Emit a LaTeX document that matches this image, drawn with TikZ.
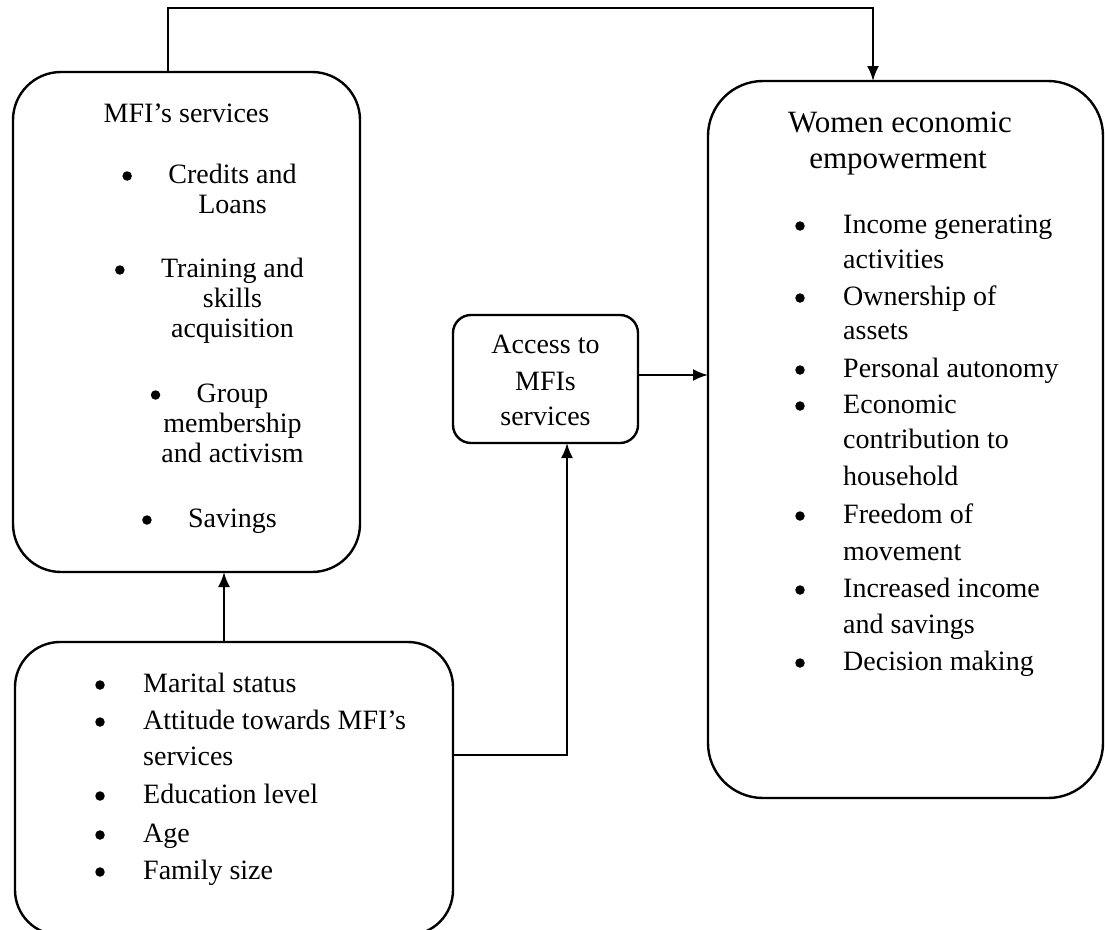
\documentclass[tikz,border=0pt]{standalone}
\usepackage{fontspec}
\setmainfont{Liberation Serif}
\usetikzlibrary{arrows.meta}
\begin{document}
\begin{tikzpicture}[x=1pt,y=-1pt,
  box/.style={draw, line width=2.4pt, inner sep=0pt, outer sep=0pt, anchor=north west},
  conn/.style={line width=2.2pt, -{Latex[length=15pt,width=12pt]}},
  txt/.style={inner sep=0pt, font=\fontsize{28pt}{37pt}\selectfont},
  ttl/.style={inner sep=0pt, font=\fontsize{31pt}{37pt}\selectfont},
  dot/.style={circle, fill, inner sep=0pt, minimum size=9.5pt}]
\useasboundingbox (0,0) rectangle (1105,929);
\fill[white] (0,0) rectangle (1105,929);

% boxes
\node[box, minimum width=347pt, minimum height=500pt, rounded corners=48pt] (mfi) at (13,72) {};
\node[box, minimum width=438pt, minimum height=293pt, rounded corners=45pt] (fac) at (15,642) {};
\node[box, minimum width=185pt, minimum height=128pt, rounded corners=18pt] (acc) at (453,315) {};
\node[box, minimum width=395pt, minimum height=717pt, rounded corners=55pt] (wee) at (708,81) {};

% connectors
\coordinate (topL) at (168,8);
\coordinate (topR) at (873,8);
\draw[conn] ([xshift=155pt]mfi.north west) -- (topL) -- (topR) -- (topR |- wee.north);
\draw[conn] ([xshift=209pt]fac.north west) -- ([xshift=211pt]mfi.south west);
\draw[conn] ([yshift=33.5pt]fac.east) -| ([xshift=21.5pt]acc.south);
\draw[conn] ([yshift=4pt]acc.east) -- ([yshift=4pt]acc.east -| wee.west);

% MFI's services
\node[txt, anchor=base] (mfit) at (186.5,122) {MFI’s services};
\node[txt, anchor=base] (m1) at (232.5,183) {Credits and};
\node[txt, anchor=base] (m1b) at (232.5,213) {Loans};
\node[txt, anchor=base] (m2) at (232.5,277) {Training and};
\node[txt, anchor=base] (m2b) at (232.5,307) {skills};
\node[txt, anchor=base] (m2c) at (232.5,337) {acquisition};
\node[txt, anchor=base] (m3) at (232.5,402) {Group};
\node[txt, anchor=base] (m3b) at (232.5,432) {membership};
\node[txt, anchor=base] (m3c) at (232.5,462) {and activism};
\node[txt, anchor=base] (m4) at (232.5,527) {Savings};
\foreach \n in {m1,m2,m3,m4}
  \node[dot] (d\n) at ([shift={(-41pt,7pt)}]\n.base west) {};

% Access box
\node[txt, anchor=base] (a1) at (545.5,353) {Access to};
\node[txt, anchor=base] (a2) at (545.5,390) {MFIs};
\node[txt, anchor=base] (a3) at (545.5,425) {services};

% factors
\node[txt, anchor=base west] (f1) at (143,692) {Marital status};
\node[txt, anchor=base west] (f2) at (143,729) {Attitude towards MFI’s};
\node[txt, anchor=base west] (f2b) at (143,765) {services};
\node[txt, anchor=base west] (f3) at (143,803) {Education level};
\node[txt, anchor=base west] (f4) at (143,842) {Age};
\node[txt, anchor=base west] (f5) at (143,879) {Family size};
\foreach \n in {f1,f2,f3,f4,f5}
  \node[dot] (d\n) at ([shift={(-43pt,7pt)}]\n.base west) {};

% Women economic empowerment
\node[ttl, anchor=base] (wt1) at (900,132) {Women economic};
\node[ttl, anchor=base] (wt2) at (898,168) {empowerment};
\node[txt, anchor=base west] (w1) at (843,233) {Income generating};
\node[txt, anchor=base west] (w1b) at (843,268) {activities};
\node[txt, anchor=base west] (w2) at (843,305) {Ownership of};
\node[txt, anchor=base west] (w2b) at (843,339) {assets};
\node[txt, anchor=base west] (w3) at (843,377) {Personal autonomy};
\node[txt, anchor=base west] (w4) at (843,413) {Economic};
\node[txt, anchor=base west] (w4b) at (843,448) {contribution to};
\node[txt, anchor=base west] (w4c) at (843,485) {household};
\node[txt, anchor=base west] (w5) at (843,523) {Freedom of};
\node[txt, anchor=base west] (w5b) at (843,560) {movement};
\node[txt, anchor=base west] (w6) at (843,597) {Increased income};
\node[txt, anchor=base west] (w6b) at (843,633) {and savings};
\node[txt, anchor=base west] (w7) at (843,670) {Decision making};
\foreach \n in {w1,w2,w3,w4,w5,w6,w7}
  \node[dot] (d\n) at ([shift={(-43pt,7pt)}]\n.base west) {};
\end{tikzpicture}
\end{document}
